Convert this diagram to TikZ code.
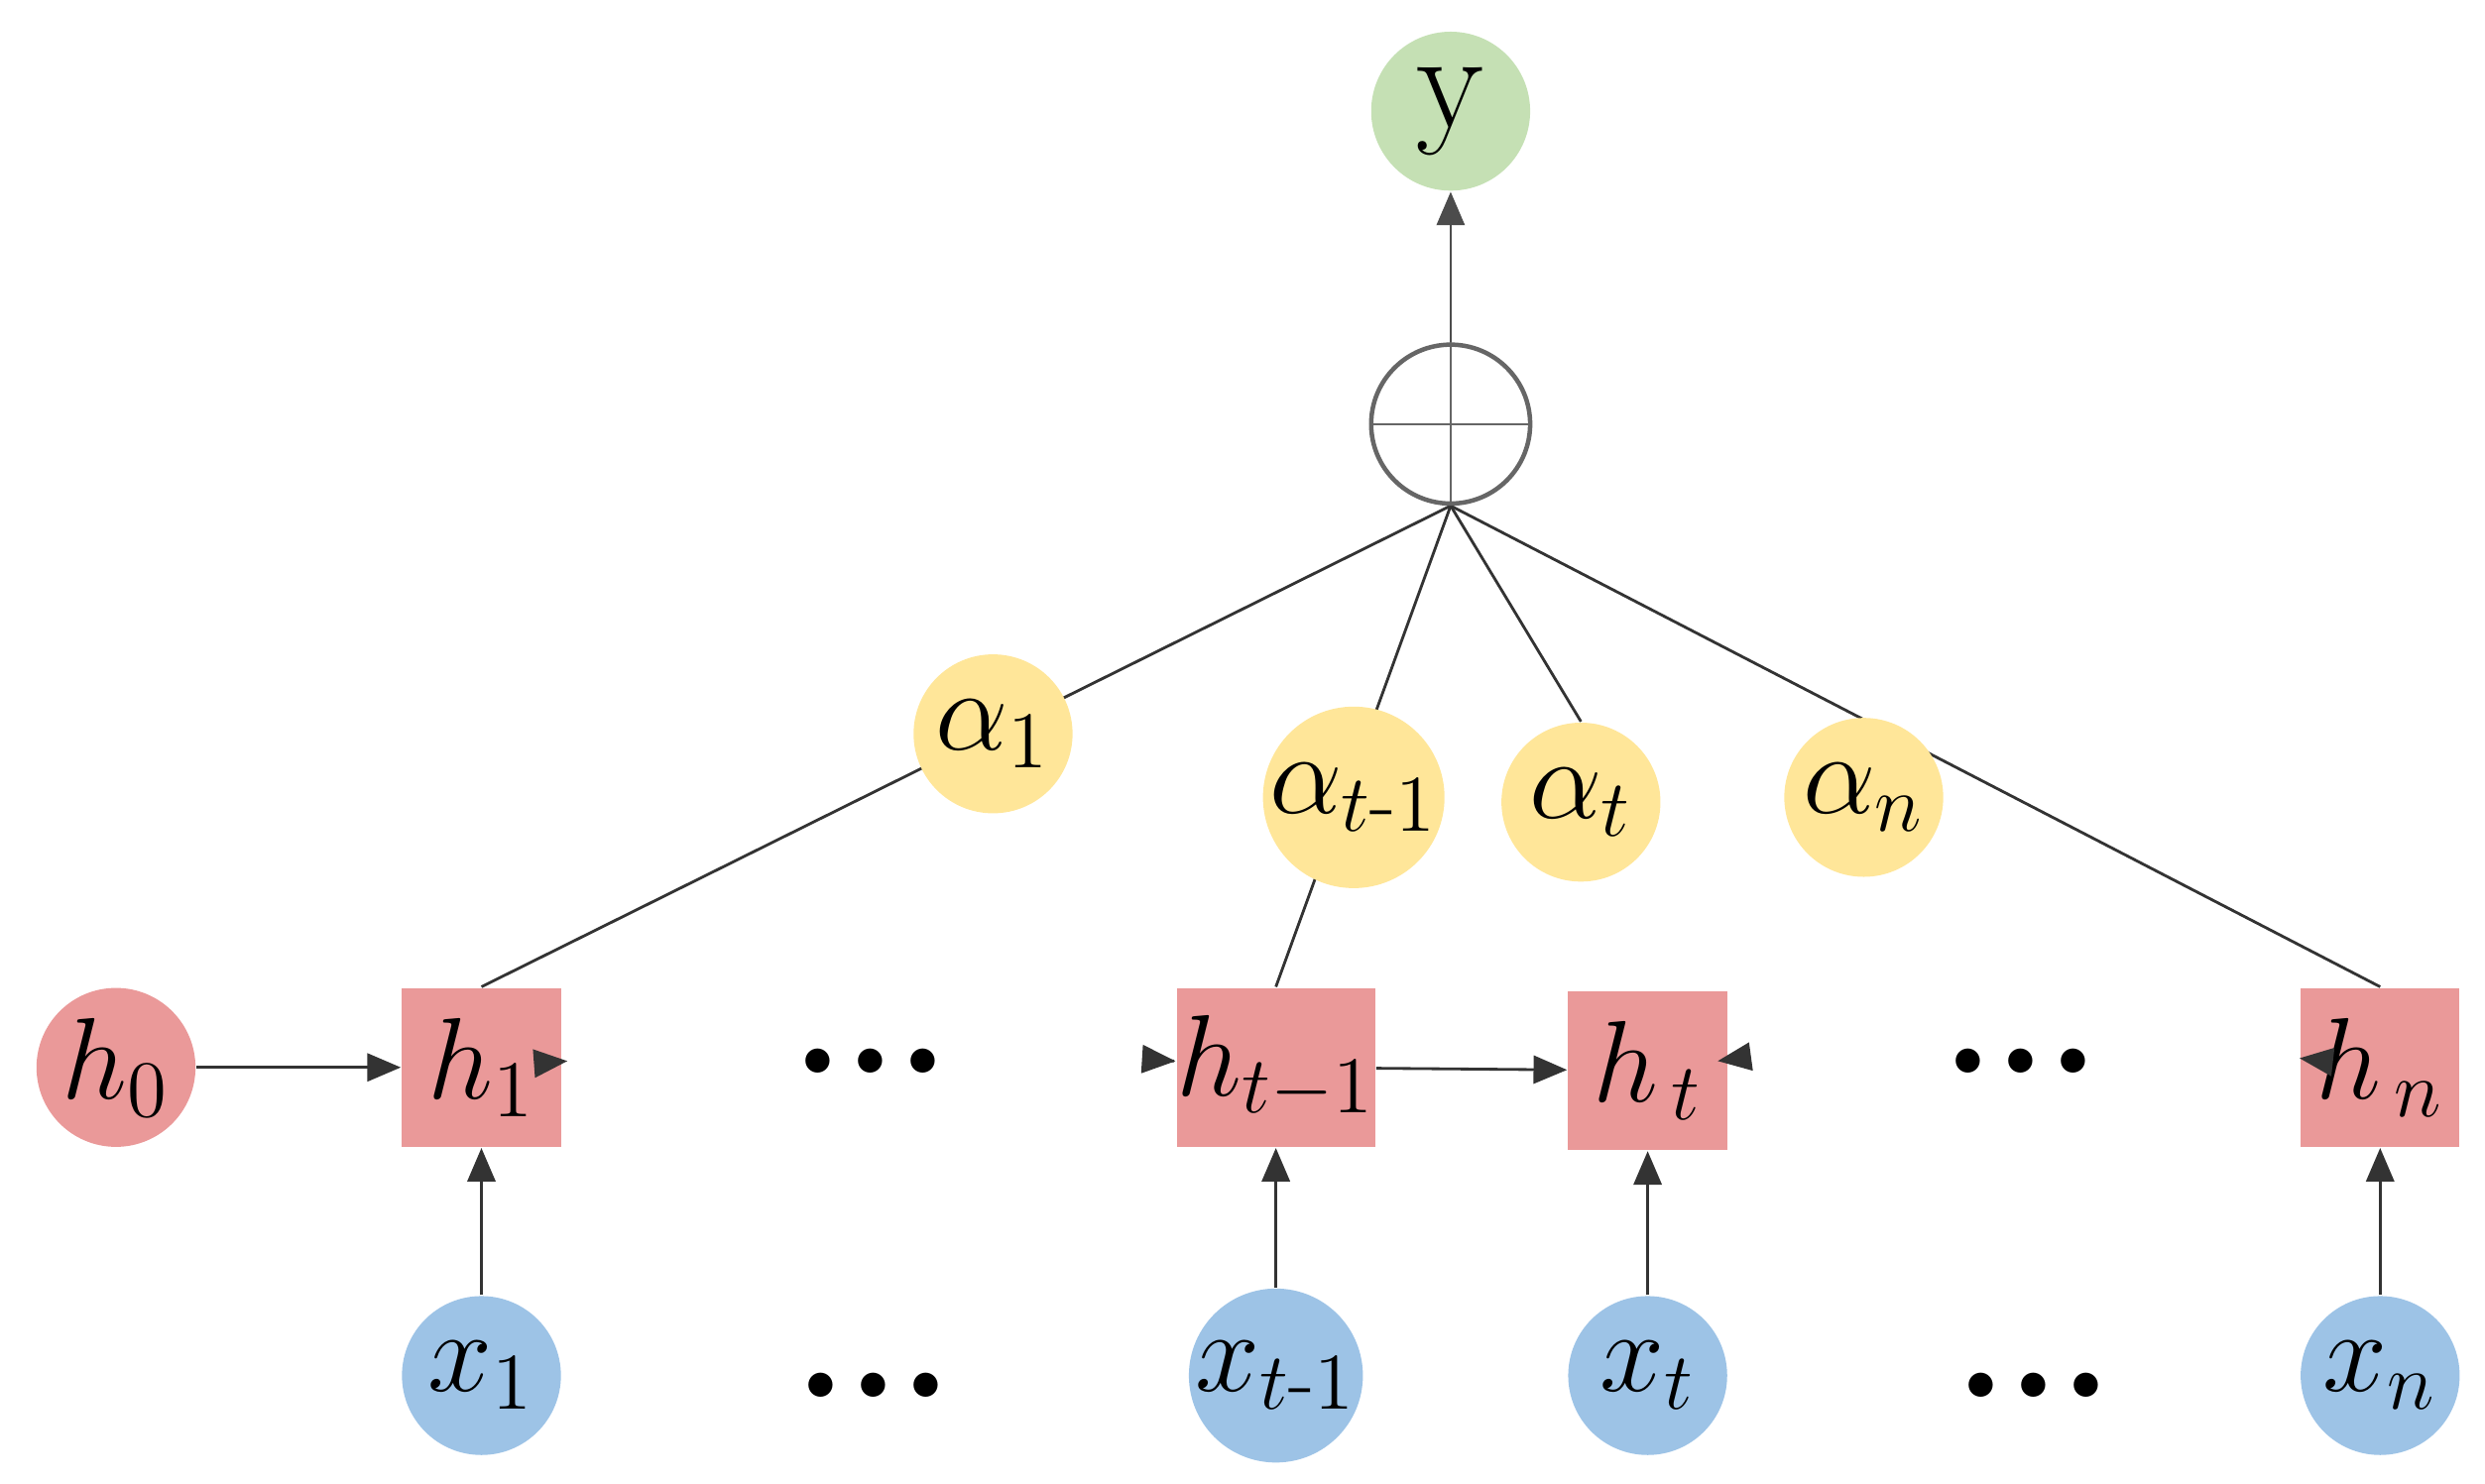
\documentclass[tikz,border=0pt]{standalone}
\usepackage{tikz}
\usepackage{amsmath}
\usetikzlibrary{arrows.meta,positioning,backgrounds}

\definecolor{hred}{HTML}{EA9999}
\definecolor{xblue}{HTML}{9DC3E6}
\definecolor{ayel}{HTML}{FFE699}
\definecolor{ygreen}{HTML}{C5E0B4}

\begin{document}
\begin{tikzpicture}[x=0.01cm,y=-0.01cm,
  every node/.style={inner sep=0pt,font=\fontsize{22}{26}\selectfont},
  circ/.style={circle,minimum size=1cm},
  hbox/.style={rectangle,fill=hred,minimum size=1cm},
  dots/.style={font=\fontsize{30}{30}\selectfont\bfseries},
  conn/.style={draw=black!80,line width=0.5pt},
  arr/.style={conn,-{Triangle[length=6pt,width=5pt]}}]
\useasboundingbox (0,0) rectangle (1564,934);
% output and sum
\node [circ,fill=ygreen,font=\fontsize{34}{34}\selectfont] (y) at (913,70) {$\mathrm{y}$};
\node [circ,draw=black!60,line width=0.8pt] (sum) at (913,267) {};
\draw [draw=black!60] (sum.north) -- (sum.south) (sum.west) -- (sum.east);
% attention weights
\node [circ,fill=ayel] (a1) at (625,462) {$\alpha_1$};
\node [circ,fill=ayel] (atm) at (852,502) {$\alpha_{t\text{-}1}$};
\node [circ,fill=ayel] (at) at (995,505) {$\alpha_t$};
\node [circ,fill=ayel] (an) at (1173,502) {$\alpha_n$};
% hidden states
\node [circ,fill=hred] (h0) at (73,672) {$h_0$};
\node [hbox] (h1) at (303,672) {$h_1$};
\node [dots] (d1) at (548,668) {...};
\node [hbox] (htm) at (803,672) {$h_{t-1}$};
\node [hbox] (ht) at (1037,674) {$h_{\,t}$};
\node [dots] (d2) at (1272,668) {...};
\node [hbox] (hn) at (1498,672) {$h_{\,n}$};
% inputs
\node [circ,fill=xblue] (x1) at (303,866) {$x_1$};
\node [dots] (d3) at (550,872) {...};
\node [circ,fill=xblue] (xtm) at (803,866) {$x_{t\text{-}1}$};
\node [circ,fill=xblue] (xt) at (1037,866) {$x_t$};
\node [dots] (d4) at (1280,872) {...};
\node [circ,fill=xblue] (xn) at (1498,866) {$x_n$};

\begin{scope}[on background layer]
\draw [conn] (sum.south) -- (h1.north);
\draw [conn] (sum.south) -- (htm.north);
\draw [conn] (sum.south) -- (at.north);
\draw [conn] (sum.south) -- (hn.north);
\end{scope}
\draw [arr,draw=black!70] (sum) -- (y);
\draw [arr] (h0) -- (h1);
\draw [arr] (h1) -- ([xshift=-40]d1.west);
\draw [arr] ([xshift=40]d1.east) -- (htm);
\draw [arr] (htm) -- (ht);
\draw [arr] (ht) -- ([xshift=-40]d2.west);
\draw [arr] ([xshift=40]d2.east) -- (hn);
\foreach \i/\j in {x1/h1,xtm/htm,xt/ht,xn/hn}
  \draw [arr] (\i) -- (\j);
\end{tikzpicture}
\end{document}
